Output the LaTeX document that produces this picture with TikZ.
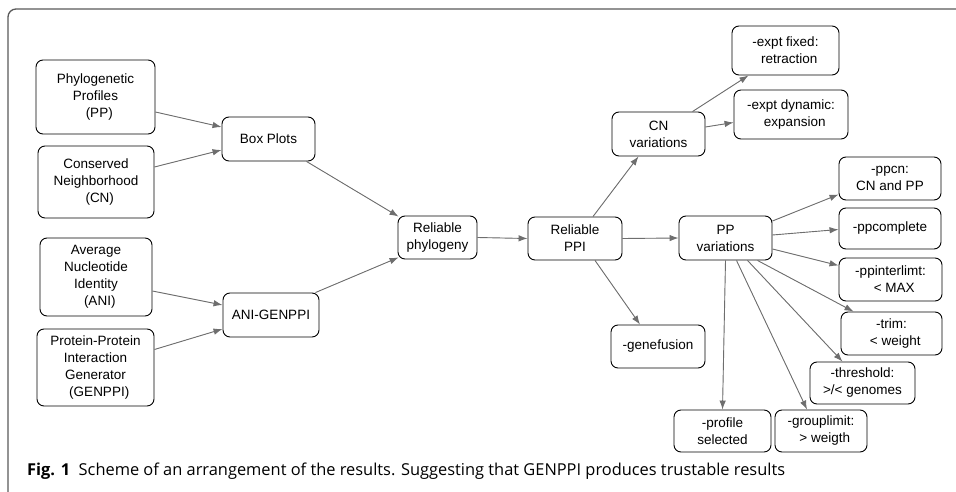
\documentclass[tikz,border=0pt]{standalone}
\usepackage{fontspec}
\setmainfont{Liberation Sans}
\newfontfamily\capfont{Open Sans}
\usetikzlibrary{arrows.meta}
\definecolor{gpline}{HTML}{6E6E6E}
\begin{document}
\begin{tikzpicture}[
   x=1pt,y=-1pt,
   gpbox/.style={draw,rounded corners=7pt,line width=0.9pt,inner sep=1pt,
     align=center,font=\fontsize{13.5}{17}\selectfont},
   gpedge/.style={-{Latex[length=9pt,width=6.5pt]},draw=gpline,fill=gpline,line width=0.9pt}
 ]
 \useasboundingbox (0,0) rectangle (956,492);
 % outer frame, cut at the right and bottom
 \draw[black!65,line width=1.3pt,rounded corners=8pt] (956,9) -- (8,9) -- (8,492);
 % inputs
 \node[gpbox,minimum width=119pt,minimum height=74pt] (pp) at (95.5,97)
   {Phylogenetic\\Profiles\\\ \ (PP)};
 \node[gpbox,minimum width=116pt,minimum height=72pt] (cn) at (96,182)
   {Conserved\\Neighborhood\\\ \ (CN)};
 \node[gpbox,minimum width=112pt,minimum height=78pt] (ani) at (96,277)
   {Average\\Nucleotide\\Identity\\\ \ (ANI)};
 \node[gpbox,minimum width=117pt,minimum height=77pt] (gen) at (95.5,367.5)
   {Protein-Protein\\Interaction\\Generator\\\ \ (GENPPI)};
 % middle
 \node[gpbox,minimum width=93pt,minimum height=44pt] (box) at (268.5,139) {Box Plots};
 \node[gpbox,minimum width=96pt,minimum height=44pt] (anig) at (271,315) {ANI-GENPPI};
 \node[gpbox,minimum width=79pt,minimum height=43pt] (phy) at (437.5,237.5)
   {Reliable\\phylogeny};
 \node[gpbox,minimum width=94pt,minimum height=43pt] (ppi) at (575,238.5)
   {Reliable\\PPI};
 \node[gpbox,minimum width=93pt,minimum height=44pt] (cnv) at (658.5,134)
   {CN\\variations};
 \node[gpbox,minimum width=94pt,minimum height=43pt] (gene) at (658,346.5)
   {-genefusion};
 \node[gpbox,minimum width=93pt,minimum height=44pt] (ppv) at (725.5,238)
   {PP\\variations};
 % options
 \node[gpbox,minimum width=107pt,minimum height=49pt] (fixed) at (785.5,50.5)
   {-expt fixed:\\\ \ retraction};
 \node[gpbox,minimum width=114pt,minimum height=49pt] (dyn) at (791,114.5)
   {-expt dynamic:\\\ \ expansion};
 \node[gpbox,minimum width=102pt,minimum height=43pt] (ppcn) at (890,178.5)
   {-ppcn:\\CN and PP};
 \node[gpbox,minimum width=102pt,minimum height=41pt] (ppcomp) at (890,228.5)
   {-ppcomplete};
 \node[gpbox,minimum width=103pt,minimum height=43pt] (ppint) at (890.5,279.5)
   {-ppinterlimt:\\\ \ < MAX};
 \node[gpbox,minimum width=101pt,minimum height=43pt] (trim) at (891.5,333.5)
   {-trim:\\\ \ < weight};
 \node[gpbox,minimum width=105pt,minimum height=42pt] (thr) at (862.5,383)
   {-threshold:\\>/< genomes};
 \node[gpbox,minimum width=97pt,minimum height=42pt] (prof) at (722.5,431)
   {-profile\\selected};
 \node[gpbox,minimum width=92pt,minimum height=42pt] (grp) at (821,431)
   {-grouplimit:\\\ \ > weigth};
 % connectors: from / xshift / yshift / to / xshift / yshift
 \foreach \from/\fx/\fy/\to/\tx/\ty in {
   pp.east/0/-15/box.west/0/12,
   cn.east/0/15/box.west/0/-11,
   box.south/38/0/phy.north west/1/-1,
   ani.east/0/-14/anig.west/0/10,
   gen.east/0/18/anig.west/0/-14,
   anig.north east/-4/0/phy.south west/1/2,
   phy.east/0/0/ppi.west/0/0,
   ppi.north/18/0/cnv.south/-20/0,
   ppi.south/20/0/gene.north/-18/0,
   ppi.east/0/0/ppv.west/0/0,
   cnv.north/34/0/fixed.south/-37/0,
   cnv.east/0/7/dyn.west/0/-8,
   ppv.east/0/17/ppcn.west/0/-16,
   ppv.east/0/3/ppcomp.west/0/-1,
   ppv.east/0/-11/ppint.west/0/14,
   ppv.south/32/0/trim.north/-38/0,
   ppv.south/22/0/thr.north/-20/0,
   ppv.south/11/0/grp.north/-14/0,
   ppv.south/0/0/prof.north/0/0} {
   \draw[gpedge] ([xshift=\fx pt,yshift=\fy pt]\from) -- ([xshift=\tx pt,yshift=\ty pt]\to);
 }
 % caption
 \node[anchor=base west,inner sep=0pt,font=\capfont\fontsize{16.4}{20}\selectfont] (cap) at (27,475)
   {\textbf{Fig. 1}\ \ Scheme of an arrangement of the results. Suggesting that GENPPI produces trustable results};
\end{tikzpicture}
\end{document}
